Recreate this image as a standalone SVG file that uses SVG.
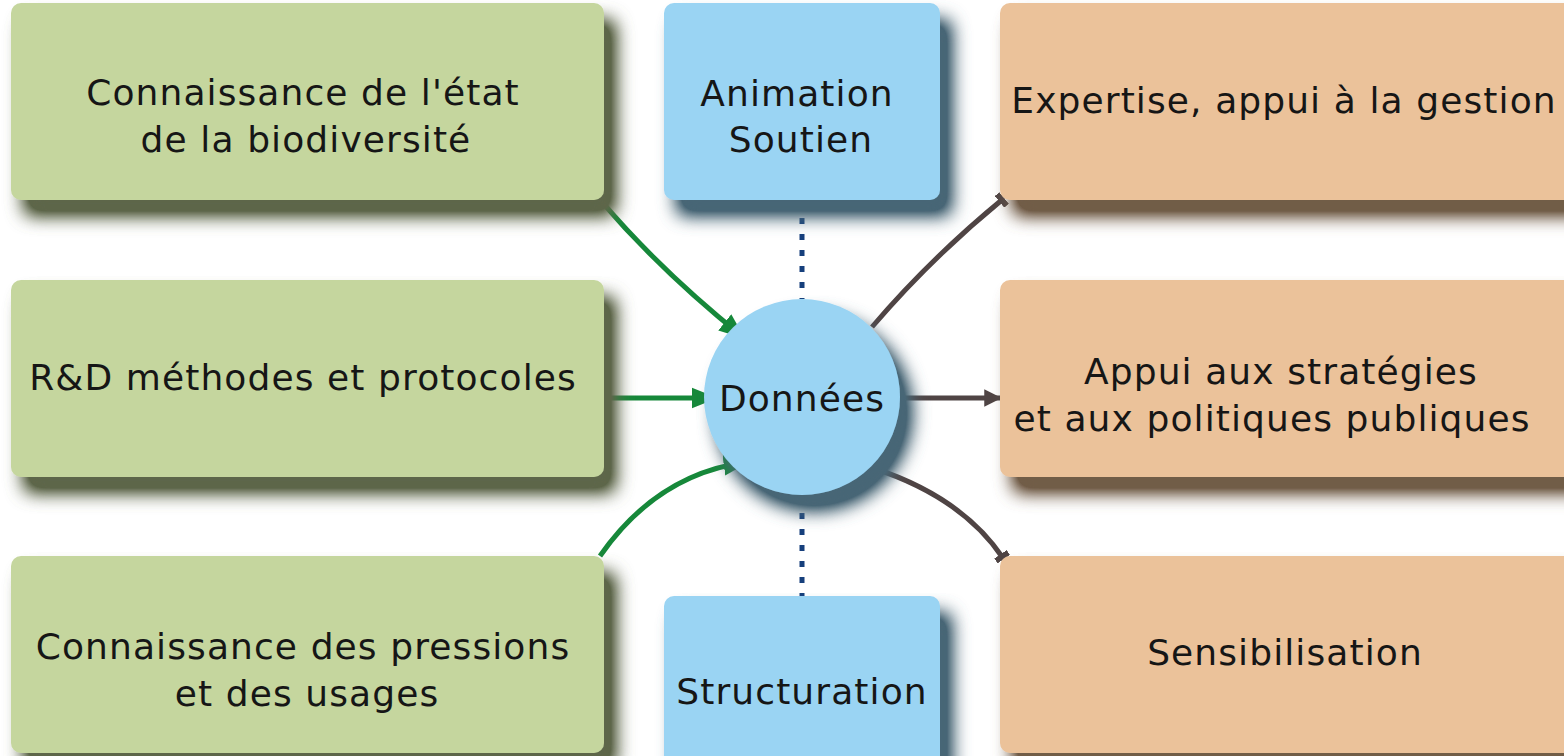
<svg xmlns="http://www.w3.org/2000/svg" width="1564" height="756" viewBox="0 0 1564 756">
<style>
.t{font-family:"DejaVu Sans","Open Sans",sans-serif;font-size:36px;letter-spacing:1.1px;fill:#161616;text-anchor:middle}
.g{fill:#c5d69e}
.b{fill:#9ad4f3}
.o{fill:#ebc29a}
.ga{fill:none;stroke:#16883a;stroke-width:5}
.ba{fill:none;stroke:#4f4444;stroke-width:5}
.dl{fill:none;stroke:#163f7c;stroke-width:5;stroke-dasharray:6 10}
</style>
<defs>
<filter id="sh" x="-10%" y="-10%" width="130%" height="150%">
<feGaussianBlur in="SourceGraphic" stdDeviation="9" result="bl"/>
<feColorMatrix in="bl" type="matrix" values="0.2 0 0 0 0  0 0.2 0 0 0  0 0 0.2 0 0  0 0 0 1.4 0" result="dk"/>
<feOffset in="dk" dx="12" dy="16" result="off"/>
<feMerge><feMergeNode in="off"/><feMergeNode in="SourceGraphic"/></feMerge>
</filter>
<marker id="ag" viewBox="0 0 10 10" refX="9" refY="5" markerWidth="5.2" markerHeight="5.2" orient="auto" markerUnits="strokeWidth">
<path d="M0,1 L10,5 L0,9 z" fill="#16883a"/>
</marker>
<marker id="ab" viewBox="0 0 10 10" refX="9" refY="5" markerWidth="3.5" markerHeight="3.5" orient="auto" markerUnits="strokeWidth">
<path d="M0,0 L10,5 L0,10 z" fill="#4f4444"/>
</marker>
<marker id="tk" viewBox="0 0 4 10" refX="3" refY="5" markerWidth="1.2" markerHeight="3" orient="auto" markerUnits="strokeWidth">
<rect x="0" y="0" width="4" height="10" fill="#4f4444"/>
</marker>
</defs>
<rect width="1564" height="756" fill="#ffffff"/>

<g id="connectors">
<path class="dl" d="M802,202 L802,299"/>
<path class="dl" d="M802,497 L802,596"/>
<path class="ga" d="M602,202 Q662,272 743,337" marker-end="url(#ag)"/>
<path class="ga" d="M604,398 L715,398" marker-end="url(#ag)"/>
<path class="ga" d="M600,556 Q657,474 747,462" marker-end="url(#ag)"/>
<path class="ba" d="M872,327 Q931,258 1003,199" marker-end="url(#tk)"/>
<path class="ba" d="M901,398 L1000,398" marker-end="url(#ab)"/>
<path class="ba" d="M873,468 Q962,497 1003,558" marker-end="url(#tk)"/>
</g>

<g id="n-etat"><rect class="g" filter="url(#sh)" x="11" y="3" width="593" height="197" rx="10"/>
<text class="t" x="303" y="105">Connaissance de l'état</text><text class="t" x="306" y="152">de la biodiversité</text></g>
<g id="n-rd"><rect class="g" filter="url(#sh)" x="11" y="280" width="593" height="197" rx="10"/>
<text class="t" x="303" y="390">R&amp;D méthodes et protocoles</text></g>
<g id="n-pressions"><rect class="g" filter="url(#sh)" x="11" y="556" width="593" height="197" rx="10"/>
<text class="t" x="303" y="659">Connaissance des pressions</text><text class="t" x="307" y="706">et des usages</text></g>

<g id="n-animation"><rect class="b" filter="url(#sh)" x="664" y="3" width="276" height="197" rx="10"/>
<text class="t" x="797" y="106">Animation</text><text class="t" x="801" y="152">Soutien</text></g>
<g id="n-structuration"><rect class="b" filter="url(#sh)" x="664" y="596" width="276" height="190" rx="10"/>
<text class="t" x="802" y="704">Structuration</text></g>

<g id="n-donnees"><circle class="b" filter="url(#sh)" cx="802" cy="397" r="98"/>
<text class="t" x="802" y="411">Données</text></g>

<g id="n-expertise"><rect class="o" filter="url(#sh)" x="1000" y="3" width="600" height="197" rx="10"/>
<text class="t" x="1284" y="113">Expertise, appui à la gestion</text></g>
<g id="n-strategies"><rect class="o" filter="url(#sh)" x="1000" y="280" width="600" height="197" rx="10"/>
<text class="t" x="1281" y="384">Appui aux stratégies</text><text class="t" x="1272" y="431">et aux politiques publiques</text></g>
<g id="n-sensibilisation"><rect class="o" filter="url(#sh)" x="1000" y="556" width="600" height="197" rx="10"/>
<text class="t" x="1285" y="665">Sensibilisation</text></g>
</svg>
